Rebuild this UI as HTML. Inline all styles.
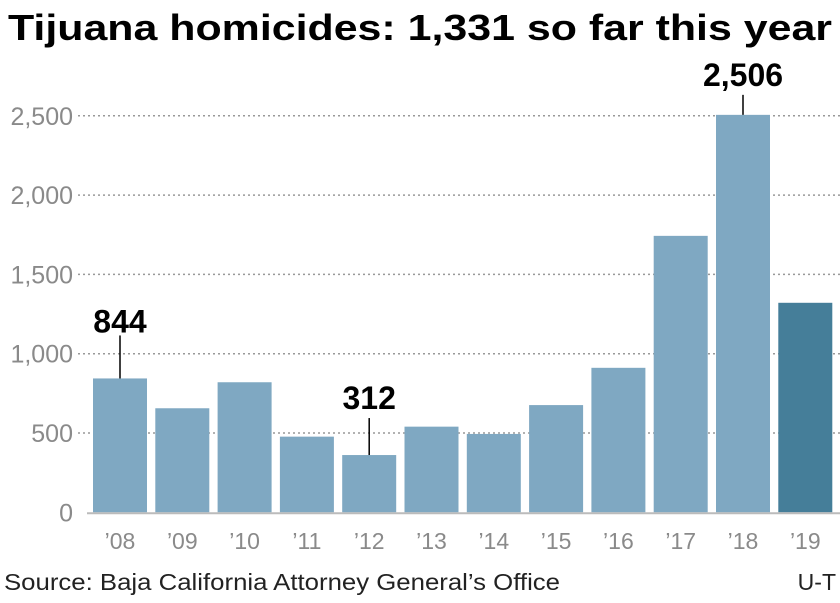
<!DOCTYPE html>
<html><head><meta charset="utf-8"><style>
body{margin:0;background:#fff;width:840px;height:598px;overflow:hidden;font-family:"Liberation Sans",sans-serif}
</style></head><body>
<svg id="chart" width="840" height="598" xmlns="http://www.w3.org/2000/svg" font-family="Liberation Sans, sans-serif">
<text x="8" y="40" font-size="36" font-weight="bold" textLength="824" lengthAdjust="spacingAndGlyphs" fill="#000">Tijuana homicides: 1,331 so far this year</text>
<g id="grid"></g><g id="bars"></g><g id="ann"></g>
<text x="4" y="590" font-size="23" fill="#222" textLength="556" lengthAdjust="spacingAndGlyphs">Source: Baja California Attorney General’s Office</text>
<text x="836" y="590" font-size="23" fill="#222" text-anchor="end">U-T</text>
</svg>
<script>
const categories=["’08","’09","’10","’11","’12","’13","’14","’15","’16","’17","’18","’19"];
const values=[844,656,820,477,361,540,494,676,911,1743,2506,1321];
const yTicks=[0,500,1000,1500,2000,2500];
const yTickLabels=["0","500","1,000","1,500","2,000","2,500"];
const annotIdx=[0,4,10];
const annotLabels=["844","312","2,506"];
const NS="http://www.w3.org/2000/svg";
const y=v=>512.3-v*0.1586;
const x=i=>93+i*62.3;
const bw=54;
function mk(t,a,p){const e=document.createElementNS(NS,t);for(const k in a)e.setAttribute(k,a[k]);p.appendChild(e);return e;}
const grid=document.getElementById('grid'),bars=document.getElementById('bars'),ann=document.getElementById('ann');
yTicks.forEach((t,i)=>{
 if(t>0){const l=mk('line',{x1:78,x2:840,y1:y(t),y2:y(t),stroke:'#999','stroke-width':1.5,'stroke-dasharray':'2,3'},grid);
 
 }
 const tx=mk('text',{x:73,y:y(t)+9,'font-size':25,fill:'#8a8a8a','text-anchor':'end'},grid);
 tx.textContent=yTickLabels[i];
 
 
});
values.forEach((v,i)=>{
 const r=mk('rect',{x:x(i),y:y(v),width:bw,height:y(0)-y(v),fill:i==values.length-1?'#457e99':'#7fa8c2'},bars);
 
 
 const t=mk('text',{x:x(i)+bw/2,y:549,'font-size':23,fill:'#8a8a8a','text-anchor':'middle'},bars);
 t.textContent=categories[i];
 
 
});
const ax=mk('line',{x1:87,x2:840,y1:y(0)+1,y2:y(0)+1,stroke:'#bbb','stroke-width':2},bars);


annotIdx.forEach((idx,k)=>{
 const cx=x(idx)+bw/2,top=y(values[idx]);
 const l=mk('line',{x1:cx,x2:cx,y1:top-(k==1?37:(k==2?20:43)),y2:top,stroke:'#000','stroke-width':1.5},ann);
 
 
 const t=mk('text',{x:cx,y:top-(k==1?46:(k==2?29:46)),'font-size':32,'font-weight':'bold',fill:'#000','text-anchor':'middle'},ann);
 t.textContent=annotLabels[k];
 
 
});
</script>
</body></html>
